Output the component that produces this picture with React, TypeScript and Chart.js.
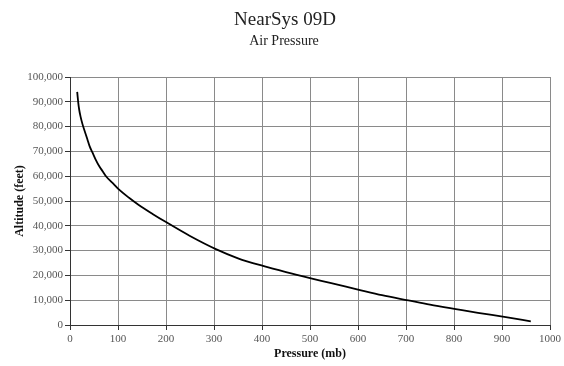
import React, { useEffect, useRef } from "react";
import { Chart, registerables } from "chart.js";

Chart.register(...registerables);

const pressureMb = [15, 16, 17, 19, 22, 26, 30, 36, 41, 47, 54, 61, 68, 75, 88, 100, 123, 144, 172, 200, 250, 305, 350, 402, 450, 500, 542, 600, 650, 705, 750, 807, 850, 908, 960];
const altitudeFt = [94000, 92000, 90000, 87000, 84000, 81000, 78500, 75000, 72000, 69500, 66500, 64000, 62000, 60000, 57400, 55000, 51300, 48300, 44800, 41500, 35900, 30500, 26900, 23800, 21300, 18900, 17000, 14300, 12000, 9900, 8200, 6300, 4900, 3200, 1500];

const chartTitle = "NearSys 09D";
const chartSubtitle = "Air Pressure";
const xTitle = "Pressure (mb)";
const yTitle = "Altitude (feet)";

const SERIF = '"Liberation Serif", "Times New Roman", serif';

export default function App() {
  const ref = useRef<HTMLCanvasElement | null>(null);

  useEffect(() => {
    if (!ref.current) return;
    const titlePlugin = {
      id: "titles",
      afterDraw(chart: any) {
        const ctx = chart.ctx;
        ctx.save();
        ctx.fillStyle = "#222";
        ctx.textAlign = "center";
        ctx.textBaseline = "middle";
        ctx.font = `19px ${SERIF}`;
        ctx.fillText(chartTitle, 285, 20);
        ctx.font = `14px ${SERIF}`;
        ctx.fillText(chartSubtitle, 284, 41);
        ctx.restore();
      },
    };
    const chart = new Chart(ref.current, {
      type: "line",
      data: {
        datasets: [
          {
            data: pressureMb.map((p, i) => ({ x: p, y: altitudeFt[i] })),
            borderColor: "#000",
            borderWidth: 1.8,
            pointRadius: 0,
            tension: 0.3,
            cubicInterpolationMode: "monotone",
            fill: false,
          },
        ],
      },
      options: {
        animation: false,
        responsive: false,
        maintainAspectRatio: false,
        layout: { padding: { top: 77, right: 12, left: 0, bottom: 0 } },
        plugins: {
          legend: { display: false },
          tooltip: { enabled: false },
          title: { display: false },
        },
        scales: {
          x: {
            type: "linear",
            min: 0,
            max: 1000,
            afterFit: (s: any) => {
              s.height = 41;
            },
            ticks: {
              stepSize: 100,
              padding: 3,
              color: "#555",
              font: { family: SERIF, size: 11 },
              maxRotation: 0,
              callback: (v: any) => String(v),
            },
            grid: { color: "#8a8a8a", lineWidth: 1, tickLength: 5, tickColor: "#333" },
            border: { color: "#333", width: 1 },
            title: {
              display: true,
              text: xTitle,
              color: "#111",
              font: { family: SERIF, size: 12, weight: "bold" },
              padding: { top: 0, bottom: 5 },
            },
          },
          y: {
            type: "linear",
            min: 0,
            max: 100000,
            afterFit: (s: any) => {
              s.width = 70;
            },
            ticks: {
              stepSize: 10000,
              padding: 2,
              color: "#555",
              font: { family: SERIF, size: 11 },
              callback: (v: any) => Number(v).toLocaleString("en-US"),
            },
            grid: { color: "#8a8a8a", lineWidth: 1, tickLength: 5, tickColor: "#333" },
            border: { color: "#333", width: 1 },
            title: {
              display: true,
              text: yTitle,
              color: "#111",
              font: { family: SERIF, size: 12, weight: "bold" },
              padding: { top: 13, bottom: 0 },
            },
          },
        },
      },
      plugins: [titlePlugin],
    });
    return () => chart.destroy();
  }, []);

  return (
    <div style={{ position: "absolute", left: 0, top: 0, width: 564, height: 366, background: "#fff" }}>
      <canvas ref={ref} width={564} height={366} style={{ display: "block", width: 564, height: 366 }} />
    </div>
  );
}
